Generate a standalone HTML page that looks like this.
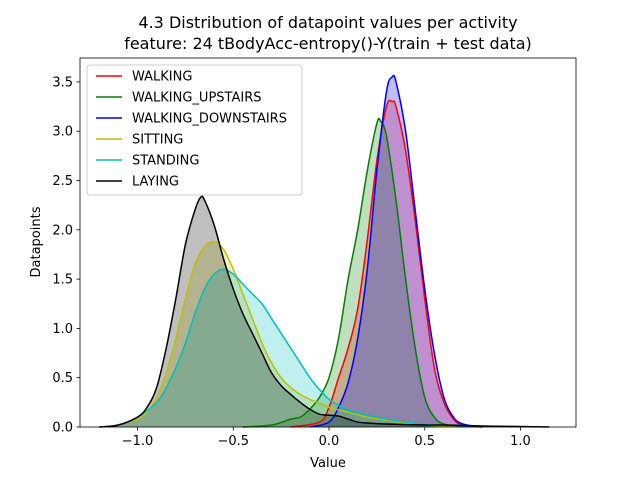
<!DOCTYPE html>
<html><head><meta charset="utf-8"><style>
body{margin:0;background:#fff;}
svg{display:block;font-family:"DejaVu Sans","Liberation Sans",sans-serif;}
</style></head><body>
<svg id="chart" width="640" height="480" viewBox="0 0 640 480">
<rect width="640" height="480" fill="#fff"/>
<text x="328" y="28" text-anchor="middle" font-size="16">4.3 Distribution of datapoint values per activity</text>
<text x="328" y="49" text-anchor="middle" font-size="16">feature: 24 tBodyAcc-entropy()-Y(train + test data)</text>
<g id="series"></g>
<rect x="80" y="58" width="496" height="369" fill="none" stroke="#000" stroke-width="0.8"/>
<g id="xticks"></g>
<g id="yticks"></g>
<text x="328" y="467" text-anchor="middle" font-size="13">Value</text>
<text transform="translate(40,242) rotate(-90)" text-anchor="middle" font-size="13">Datapoints</text>
<g id="legend"></g>
</svg>
<script>
const seriesNames=["WALKING","WALKING_UPSTAIRS","WALKING_DOWNSTAIRS","SITTING","STANDING","LAYING"];
const seriesColors=["#ff0000","#008000","#0000ff","#bfbf00","#00bfbf","#000000"];
const walkingX=[-0.2,-0.05,0,0.05,0.1,0.15,0.2,0.25,0.3,0.33,0.35,0.4,0.45,0.5,0.55,0.6,0.65,0.7,0.8];
const walkingY=[0,0.05,0.2,0.5,0.8,1.2,1.9,2.7,3.25,3.3,3.25,2.8,2.1,1.3,0.6,0.25,0.08,0.02,0];
const upstairsX=[-0.45,-0.3,-0.2,-0.15,-0.1,-0.05,0,0.05,0.1,0.15,0.2,0.25,0.27,0.3,0.35,0.4,0.45,0.5,0.55,0.6,0.7];
const upstairsY=[0,0.02,0.08,0.1,0.18,0.3,0.5,0.9,1.5,2.0,2.6,3.08,3.1,2.95,2.3,1.5,0.8,0.3,0.1,0.03,0];
const downstairsX=[-0.1,0,0.05,0.1,0.15,0.2,0.25,0.3,0.33,0.35,0.4,0.45,0.5,0.55,0.6,0.65,0.7,0.8];
const downstairsY=[0,0.05,0.2,0.45,0.9,1.6,2.6,3.4,3.55,3.5,3.0,2.2,1.4,0.75,0.3,0.1,0.03,0];
const sittingX=[-1.15,-1.1,-1.0,-0.95,-0.9,-0.85,-0.8,-0.75,-0.7,-0.65,-0.6,-0.55,-0.5,-0.45,-0.4,-0.35,-0.3,-0.25,-0.2,-0.15,-0.1,-0.05,0,0.1,0.2,0.3,0.4,0.5,0.6,0.8];
const sittingY=[0,0.02,0.08,0.15,0.3,0.55,0.9,1.3,1.65,1.83,1.88,1.8,1.6,1.35,1.1,0.85,0.65,0.5,0.4,0.33,0.28,0.24,0.2,0.15,0.1,0.07,0.04,0.02,0.01,0];
const standingX=[-1.15,-1.1,-1.0,-0.9,-0.85,-0.8,-0.75,-0.7,-0.65,-0.6,-0.55,-0.5,-0.45,-0.4,-0.35,-0.3,-0.25,-0.2,-0.15,-0.1,-0.05,0,0.05,0.1,0.2,0.3,0.4,0.5,0.6,0.8];
const standingY=[0,0.02,0.1,0.25,0.4,0.6,0.85,1.15,1.4,1.55,1.6,1.55,1.45,1.35,1.25,1.1,0.95,0.8,0.65,0.5,0.38,0.28,0.22,0.17,0.12,0.08,0.05,0.03,0.02,0];
const layingX=[-1.2,-1.1,-1.0,-0.95,-0.9,-0.85,-0.8,-0.75,-0.7,-0.67,-0.65,-0.6,-0.55,-0.5,-0.45,-0.4,-0.35,-0.3,-0.25,-0.2,-0.15,-0.1,-0.05,0,0.05,0.1,0.15,0.2,0.3,0.5,0.6,0.8,1.0,1.15];
const layingY=[0,0.02,0.1,0.2,0.4,0.8,1.3,1.85,2.2,2.33,2.3,2.05,1.7,1.4,1.15,0.95,0.75,0.55,0.42,0.33,0.25,0.18,0.13,0.12,0.11,0.08,0.05,0.04,0.03,0.02,0.02,0.01,0.005,0];
const seriesX=[walkingX,upstairsX,downstairsX,sittingX,standingX,layingX];
const seriesY=[walkingY,upstairsY,downstairsY,sittingY,standingY,layingY];
const xTicks=[-1.0,-0.5,0.0,0.5,1.0];
const xTickLabels=["−1.0","−0.5","0.0","0.5","1.0"];
const yTicks=[0,0.5,1,1.5,2,2.5,3,3.5];
const yTickLabels=["0.0","0.5","1.0","1.5","2.0","2.5","3.0","3.5"];

const NS="http://www.w3.org/2000/svg";
function xs(v){return 329+v*191.5;}
function ys(v){return 427-v*98.6;}
function mk(tag,attrs,parent){const e=document.createElementNS(NS,tag);for(const k in attrs)e.setAttribute(k,attrs[k]);parent.appendChild(e);return e;}
function smoothPath(px,py){
  let d="M"+px[0]+","+py[0];
  for(let i=0;i<px.length-1;i++){
    const x0=px[Math.max(i-1,0)],y0=py[Math.max(i-1,0)];
    const x1=px[i],y1=py[i],x2=px[i+1],y2=py[i+1];
    const x3=px[Math.min(i+2,px.length-1)],y3=py[Math.min(i+2,px.length-1)];
    let c1y=y1+(y2-y0)/6,c2y=y2-(y3-y1)/6;
    c1y=Math.min(c1y,427);c2y=Math.min(c2y,427);
    d+=" C"+(x1+(x2-x0)/6)+","+c1y+" "+(x2-(x3-x1)/6)+","+c2y+" "+x2+","+y2;
  }
  return d;
}
const sg=document.getElementById("series");
const fills=mk("g",{},sg),lines=mk("g",{},sg);
for(let s=0;s<seriesNames.length;s++){
  const px=seriesX[s].map(xs),py=seriesY[s].map(ys);
  const d=smoothPath(px,py);
  const f=mk("path",{d:d+" L"+px[px.length-1]+",427 L"+px[0]+",427 Z",fill:seriesColors[s],"fill-opacity":"0.25",stroke:"none"},fills);
  
  
  const l=mk("path",{d:d,fill:"none",stroke:seriesColors[s],"stroke-width":"1.5"},lines);
  
  
}
const xg=document.getElementById("xticks");
xTicks.forEach((v,i)=>{
  const t=mk("line",{x1:xs(v),x2:xs(v),y1:427,y2:430.5,stroke:"#000","stroke-width":"0.8"},xg);
  
  
  const tx=mk("text",{x:xs(v),y:445,"text-anchor":"middle","font-size":"13"},xg);
  tx.textContent=xTickLabels[i];
  
  
});
const yg=document.getElementById("yticks");
yTicks.forEach((v,i)=>{
  const t=mk("line",{x1:76.5,x2:80,y1:ys(v),y2:ys(v),stroke:"#000","stroke-width":"0.8"},yg);
  
  
  const tx=mk("text",{x:73,y:ys(v)+4.5,"text-anchor":"end","font-size":"13"},yg);
  tx.textContent=yTickLabels[i];
  
  
});
const lg=document.getElementById("legend");
const box=mk("rect",{x:87,y:65,width:215,height:130,rx:3,fill:"#fff","fill-opacity":"0.8",stroke:"#ccc","stroke-width":"1"},lg);


seriesNames.forEach((n,i)=>{
  const y=76+i*21;
  const l=mk("line",{x1:96,x2:122,y1:y,y2:y,stroke:seriesColors[i],"stroke-width":"1.5"},lg);
  
  
  const t=mk("text",{x:132,y:y+4.5,"font-size":"13"},lg);
  t.textContent=n;
  
  
});
</script>
</body></html>
